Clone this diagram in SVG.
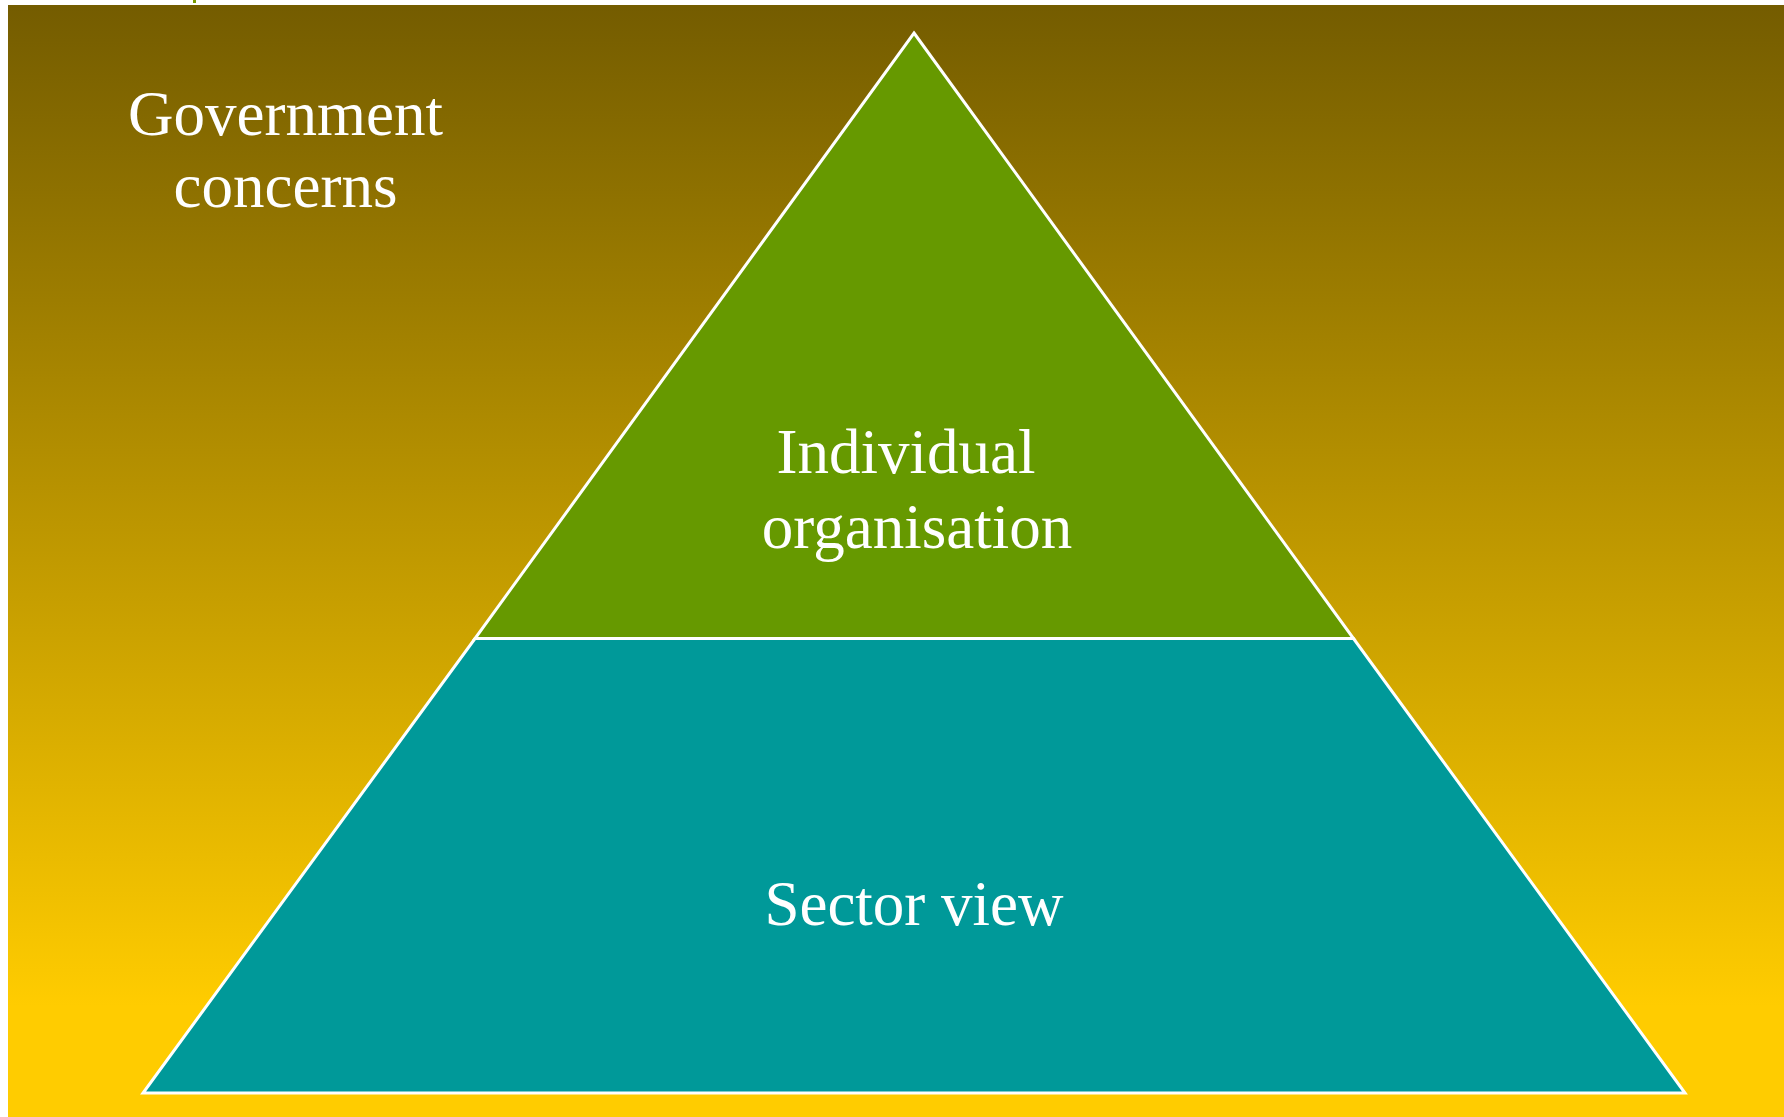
<svg xmlns="http://www.w3.org/2000/svg" width="1784" height="1117" viewBox="0 0 1784 1117">
<defs>
<linearGradient id="bg" x1="0" y1="0" x2="0" y2="1">
<stop offset="0" stop-color="#745c00"/>
<stop offset="0.9" stop-color="#ffcc00"/>
<stop offset="1" stop-color="#ffcc00"/>
</linearGradient>
<style>
.lbl{font-family:"Liberation Serif","Times New Roman",serif;font-size:63px;fill:#ffffff;text-anchor:middle}
.shape{stroke:#ffffff;stroke-width:3;stroke-linejoin:miter}
</style>
</defs>
<rect x="0" y="0" width="1784" height="1117" fill="#ffffff"/>
<rect x="193" y="0" width="3" height="3" fill="#7a9a00"/>
<rect x="8" y="5" width="1776" height="1112" fill="url(#bg)"/>
<g id="label-government">
<text class="lbl" x="285.5" y="135">Government</text>
<text class="lbl" x="285.5" y="207">concerns</text>
</g>
<g id="node-sector">
<polygon class="shape" points="475,638.5 1353.5,638.5 1685,1093 143,1093" fill="#009999"/>
<text class="lbl" x="914" y="925">Sector view</text>
</g>
<g id="node-individual">
<polygon class="shape" points="914,33 1353.5,638.5 475,638.5" fill="#669900"/>
<text class="lbl" x="906" y="473">Individual</text>
<text class="lbl" x="917" y="548">organisation</text>
</g>
<g id="connectors"></g>
</svg>
